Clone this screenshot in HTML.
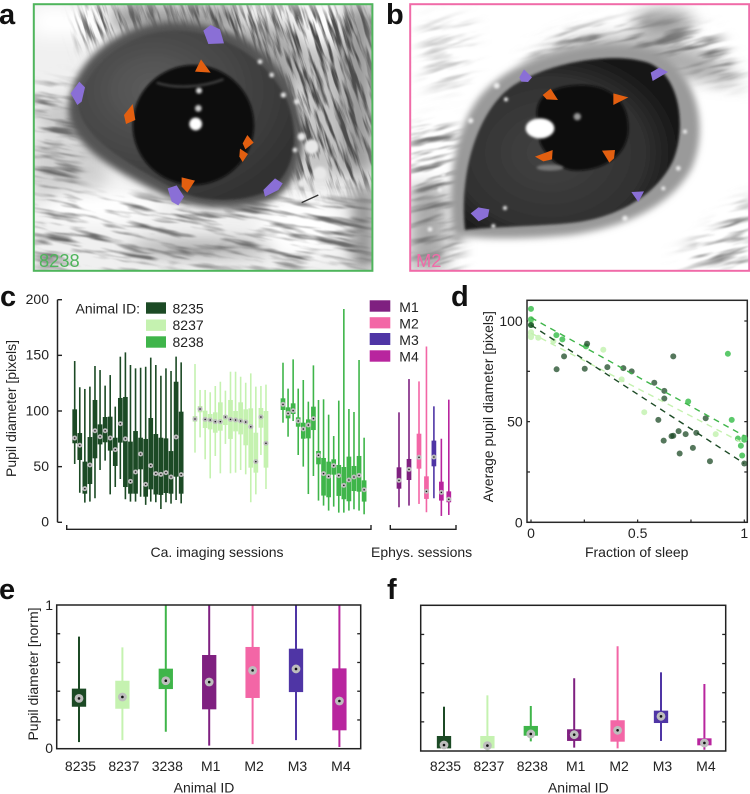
<!DOCTYPE html>
<html lang="en">
<head>
<meta charset="utf-8">
<title>Pupil diameter figure</title>
<style>
html,body{margin:0;padding:0;background:#fff;width:750px;height:794px;overflow:hidden}
svg{display:block;font-family:"Liberation Sans",sans-serif;filter:blur(.3px)}
text{font-size:14px;fill:#222}
.panel{font-size:29px;font-weight:bold;fill:#111}
</style>
</head>
<body>
<svg id="figure" xmlns="http://www.w3.org/2000/svg" width="750" height="794" viewBox="0 0 750 794">
<defs>
<clipPath id="clipA"><rect x="34" y="5" width="338" height="266"/></clipPath>
<clipPath id="clipB"><rect x="411" y="5" width="338" height="266"/></clipPath>
<filter id="b4" x="-30%" y="-30%" width="160%" height="160%"><feGaussianBlur stdDeviation="4"/></filter>
<filter id="b10" x="-30%" y="-30%" width="160%" height="160%"><feGaussianBlur stdDeviation="10"/></filter>
<filter id="b25" x="-40%" y="-40%" width="180%" height="180%"><feGaussianBlur stdDeviation="25"/></filter>
<filter id="furA" x="0" y="0" width="100%" height="100%" color-interpolation-filters="sRGB"><feTurbulence type="fractalNoise" baseFrequency="0.007 0.05" numOctaves="3" seed="4"/><feColorMatrix values="0 0 0 0 .42  0 0 0 0 .42  0 0 0 0 .42  3.4 0 0 0 -1.62"/><feGaussianBlur stdDeviation="1.5"/></filter>
<filter id="furA2" x="0" y="0" width="100%" height="100%" color-interpolation-filters="sRGB"><feTurbulence type="fractalNoise" baseFrequency="0.008 0.07" numOctaves="3" seed="9"/><feColorMatrix values="0 0 0 0 .3  0 0 0 0 .3  0 0 0 0 .3  4 0 0 0 -1.75"/><feGaussianBlur stdDeviation="1"/></filter>
<filter id="furB" x="0" y="0" width="100%" height="100%" color-interpolation-filters="sRGB"><feTurbulence type="fractalNoise" baseFrequency="0.007 0.05" numOctaves="3" seed="11"/><feColorMatrix values="0 0 0 0 .45  0 0 0 0 .45  0 0 0 0 .45  3.6 0 0 0 -1.6"/><feGaussianBlur stdDeviation="2"/></filter>
<mask id="maskA"><g filter="url(#b25)" fill="#fff">
<rect x="100" y="590" width="1020" height="220"/><rect x="100" y="250" width="140" height="350"/></g></mask>
<mask id="maskA2"><g filter="url(#b25)" fill="#fff">
<path d="M240,20 H1120 V560 H880 L860,270 C780,140 640,80 480,70 C380,70 300,110 240,150Z"/></g></mask>
<mask id="maskB"><g filter="url(#b25)" fill="#fff">
<path d="M430,190 C540,60 800,40 1000,100 L1100,260 L900,200 L700,130 L480,190Z"/><rect x="95" y="370" width="140" height="440"/><rect x="130" y="60" width="150" height="200" opacity=".4"/><path d="M880,790 L1110,590 L1110,800Z"/></g></mask>
<radialGradient id="irisA" cx="35%" cy="35%" r="70%"><stop offset="0" stop-color="#5e5e5e"/><stop offset=".5" stop-color="#484848"/><stop offset="1" stop-color="#333"/></radialGradient>
<radialGradient id="irisB" cx="40%" cy="55%" r="62%"><stop offset="0" stop-color="#434343"/><stop offset=".7" stop-color="#313131"/><stop offset="1" stop-color="#141414"/></radialGradient>
</defs>

<!-- Panel a: photograph of animal 8238 eye -->
<g clip-path="url(#clipA)">
<g transform="scale(.33333)">
<rect x="100" y="12" width="1020" height="800" fill="#f0f0f0"/>
<g filter="url(#b25)">
<rect x="100" y="20" width="230" height="90" fill="#fff"/>
<rect x="330" y="20" width="380" height="70" fill="#9a9a9a"/>
<ellipse cx="790" cy="180" rx="130" ry="110" fill="#aaa"/>
<rect x="1030" y="20" width="90" height="500" fill="#999"/>
<rect x="930" y="20" width="90" height="110" fill="#fff"/>
<rect x="900" y="130" width="130" height="400" fill="#c4c4c4"/>
<rect x="100" y="420" width="220" height="180" fill="#d0d0d0"/>
<ellipse cx="180" cy="350" rx="70" ry="50" fill="#c8c8c8"/>
<rect x="1060" y="560" width="60" height="250" fill="#888"/>
<ellipse cx="900" cy="680" rx="120" ry="90" fill="#fff"/>
<ellipse cx="300" cy="620" rx="180" ry="50" fill="#fff"/>
<ellipse cx="600" cy="745" rx="220" ry="24" fill="#a4a4a4"/>
</g>
<g mask="url(#maskA)">
<rect x="-150" y="-200" width="1500" height="1400" filter="url(#furA)" transform="rotate(10 600 400)"/>
</g>
<g mask="url(#maskA2)">
<rect x="-200" y="-400" width="1700" height="1700" filter="url(#furA2)" transform="rotate(72 800 300)"/>
</g>
<path d="M205,320 C220,170 370,65 520,65 C690,65 830,150 885,290 C925,400 915,540 820,598 C730,635 590,635 490,585 C370,525 195,440 205,320Z" fill="#555" filter="url(#b10)"/>
<path d="M235,320 C250,200 380,95 520,92 C660,90 800,170 860,300 C900,400 890,520 800,575 C720,610 590,610 510,560 C400,500 250,420 235,320Z" fill="url(#irisA)" filter="url(#b4)"/>
<ellipse cx="580" cy="375" rx="182" ry="180" fill="#070707" filter="url(#b4)"/>
<path d="M470,248 C520,265 600,265 670,238" stroke="#555" stroke-width="5" fill="none" filter="url(#b4)"/>
<circle cx="587" cy="372" r="19" fill="#fff" filter="url(#b4)"/>
<circle cx="595" cy="325" r="10" fill="#ccc" filter="url(#b4)"/>
<circle cx="597" cy="272" r="9" fill="#ddd" filter="url(#b4)"/>
<g fill="#e8e8e8" filter="url(#b4)">
<circle cx="905" cy="410" r="12"/><circle cx="935" cy="440" r="22"/><circle cx="885" cy="450" r="7"/><circle cx="960" cy="520" r="20"/><circle cx="905" cy="550" r="12"/><circle cx="850" cy="285" r="8"/><circle cx="890" cy="305" r="8"/><circle cx="815" cy="225" r="7"/><circle cx="780" cy="185" r="7"/>
</g>
<path d="M905,608 L955,585" stroke="#333" stroke-width="4"/>
<g fill="#8a6fd6">
<path d="M610,92 L632,75 L660,88 L672,130 L625,132Z"/>
<path d="M212,280 L238,245 L255,262 L245,305 L232,315Z"/>
<path d="M503,565 L530,556 L552,590 L535,616 L515,605Z"/>
<path d="M790,570 L825,535 L848,550 L835,570 L795,590Z"/>
</g>
<g fill="#e35f10">
<path d="M603,178 L632,218 L585,215Z"/>
<path d="M372,345 L398,312 L406,360 L378,372Z"/>
<path d="M742,405 L761,428 L736,448 L728,430Z"/>
<path d="M720,446 L744,462 L728,486 L718,470Z"/>
<path d="M545,532 L585,542 L562,578 L545,560Z"/>
</g>
</g>
</g>
<rect x="33.8" y="4.2" width="338.6" height="266.6" fill="none" stroke="#4fb55c" stroke-width="2"/>
<text x="39" y="267" style="font-size:18.3px;fill:#4fb55c">8238</text>

<!-- Panel b: photograph of animal M2 eye -->
<g clip-path="url(#clipB)">
<g transform="translate(380 0) scale(.33333)">
<rect x="90" y="12" width="1020" height="800" fill="#fff"/>
<g filter="url(#b25)">
<ellipse cx="850" cy="70" rx="90" ry="40" fill="#999"/>
<path d="M470,180 C560,90 800,90 1000,170 L1090,250 L900,230 L700,160Z" fill="#aaa"/>
<rect x="90" y="560" width="110" height="250" fill="#aaa"/>
</g>
<g mask="url(#maskB)">
<rect x="-100" y="-200" width="1500" height="1400" filter="url(#furB)" transform="rotate(-14 600 400)"/>
</g>
<path d="M220,705 C195,550 225,335 345,245 C470,140 720,105 835,160 C960,230 985,390 935,505 C870,625 720,685 570,705 C450,717 320,720 220,705Z" fill="#9a9a9a" filter="url(#b10)"/>
<path d="M255,690 C240,560 270,380 370,280 C470,190 700,150 810,190 C900,230 920,380 880,480 C830,590 700,660 560,670 C450,680 340,680 255,690Z" fill="url(#irisB)" filter="url(#b4)"/>
<path d="M470,340 C470,280 530,255 610,255 C700,258 745,310 745,385 C745,460 680,510 590,512 C540,512 500,470 480,430Z" fill="#090909" filter="url(#b4)"/>
<ellipse cx="480" cy="385" rx="43" ry="30" fill="#fff" filter="url(#b4)"/>
<circle cx="592" cy="350" r="11" fill="#999" filter="url(#b4)"/>
<ellipse cx="510" cy="503" rx="40" ry="9" fill="#777" filter="url(#b4)"/>
<g fill="#eee" filter="url(#b4)">
<circle cx="350" cy="257" r="9"/><circle cx="272" cy="362" r="8"/><circle cx="378" cy="298" r="6"/><circle cx="190" cy="525" r="7"/><circle cx="180" cy="570" r="7"/><circle cx="150" cy="688" r="7"/><circle cx="375" cy="624" r="6"/><circle cx="340" cy="678" r="6"/><circle cx="895" cy="505" r="7"/><circle cx="915" cy="395" r="6"/><circle cx="735" cy="655" r="8"/><circle cx="850" cy="565" r="6"/>
</g>
<g fill="#8a6fd6">
<path d="M418,232 L432,208 L456,232 L444,246 L424,245Z"/>
<path d="M812,218 L838,203 L864,216 L818,243Z"/>
<path d="M754,576 L792,574 L775,606Z"/>
<path d="M272,640 L295,622 L328,628 L324,650 L296,664Z"/>
</g>
<g fill="#e35f10">
<path d="M488,285 L512,266 L534,300 L500,298Z"/>
<path d="M700,280 L745,292 L700,315Z"/>
<path d="M465,470 L518,450 L516,478 L490,484Z"/>
<path d="M666,452 L705,450 L702,475 L688,488Z"/>
</g>
</g>
</g>
<rect x="410.2" y="4.2" width="339" height="266.6" fill="none" stroke="#f06ba8" stroke-width="2"/>
<text x="416" y="267" style="font-size:18.3px;fill:#f06ba8">M2</text>

<!-- Panel letters -->
<text class="panel" x="-1" y="24">a</text>
<text class="panel" x="386" y="24">b</text>
<text class="panel" x="0" y="306">c</text>
<text class="panel" x="451" y="306">d</text>
<text class="panel" x="-1" y="599">e</text>
<text class="panel" x="387" y="599">f</text>

<!-- Panel c static text -->
<text transform="translate(16 408.5) rotate(-90)" text-anchor="middle">Pupil diameter [pixels]</text>
<text x="75.5" y="313.5">Animal ID:</text>
<rect x="146" y="302.3" width="20" height="11.4" fill="#1c4a25"/>
<rect x="146" y="319.5" width="20" height="11.4" fill="#c5f2b0"/>
<rect x="146" y="336.3" width="20" height="11.4" fill="#3fb54a"/>
<text x="172.5" y="313.5">8235</text>
<text x="172.5" y="330">8237</text>
<text x="172.5" y="347">8238</text>
<rect x="369.7" y="300.3" width="20.6" height="11.4" fill="#7f2080"/>
<rect x="369.7" y="317.2" width="20.6" height="11.2" fill="#f366a6"/>
<rect x="369.7" y="333" width="20.6" height="12" fill="#4f35a5"/>
<rect x="369.7" y="350.3" width="20.6" height="11.4" fill="#b8259e"/>
<text x="399.3" y="311.8">M1</text>
<text x="399.3" y="328.5">M2</text>
<text x="399.3" y="344.8">M3</text>
<text x="399.3" y="361.5">M4</text>
<path d="M66.7,525 V529.3 H371 V525" fill="none" stroke="#222" stroke-width="1.4"/>
<path d="M390.3,525 V529.3 H456 V525" fill="none" stroke="#222" stroke-width="1.4"/>
<text x="217" y="557" text-anchor="middle">Ca. imaging sessions</text>
<text x="371" y="557">Ephys. sessions</text>

<!-- Panel d static text -->
<text transform="translate(493 406.7) rotate(-90)" text-anchor="middle">Average pupil diameter [pixels]</text>
<text x="636.7" y="557" text-anchor="middle">Fraction of sleep</text>

<!-- Panel e / f static text -->
<text transform="translate(38 674) rotate(-90)" text-anchor="middle">Pupil diameter [norm]</text>
<text x="204" y="792.5" text-anchor="middle">Animal ID</text>
<text x="578.3" y="792.5" text-anchor="middle">Animal ID</text>

<g id="chartC"></g>
<g id="chartD"></g>
<g id="chartE"></g>
<g id="chartF"></g>
</svg>

<script>
// ---- Panel c data: pupil diameter (pixels) per session ----
const yTicksC = [0, 50, 100, 150, 200];
const s8235High = [144.9,121.3,119.8,121.9,140.4,136.8,122.8,132.3,103.9,148.8,152.7,141.3,138.3,138.9,139.8,147.9,141.3,131.7,138.3,135.9,148.8,143.7];
const s8235Q3 = [101.5,80.2,54.5,76.6,109.9,88,94.6,94.9,76,111.7,112.6,72.5,82,76,74.9,93.7,79.3,76,75.4,64,126.3,99.4];
const s8235Median = [75.7,69.2,30.2,51.5,82.3,76.9,82.3,75.7,65.3,88.6,74.9,36.8,45.2,61.4,34.1,50.9,43.7,43.1,44.6,40.7,76.6,42.8];
const s8235Q1 = [71,56,25.7,34.4,57.5,70,71.9,64.4,50.6,71.6,31.7,25.7,25.7,47.6,23,29.6,25,24.6,26.3,25.7,41,25.7];
const s8235Low = [52.4,26.6,17.7,18.6,21.6,47,55.4,25.1,31.7,38.9,20.7,18.6,18.6,23,15.6,18.6,18,12,18,16.8,20,17];

const s8237High = [142.2,118.9,118.9,116.8,122.5,126.3,118.3,135.3,135.3,130.8,125.4,133.8,121.9,122.5,123.7];
const s8237Q3 = [95.5,104.5,100.3,97.3,98.8,107.8,96.4,109.9,100,107.8,101.5,102.4,80.5,102.7,100];
const s8237Median = [92.8,101.8,92.5,91.9,90.4,90.4,94.6,92.5,91.9,91,90.1,85.9,54.5,94.6,71];
const s8237Q1 = [90.4,98.8,84.7,83.5,80.5,82.3,87.4,74.9,81.7,79,69.2,49.1,44.6,85,49.1];
const s8237Low = [62.6,76.3,56.6,39.5,59.6,44,70.4,44,44.6,47,43.1,18,25.1,60.5,29.9];

const s8238High = [143.4,120.1,146.4,120.1,127.8,108.4,141,109.9,110.5,96.7,77.5,109.3,191.6,101.8,99.1,145.8,76];
const s8238Q3 = [111.4,103.3,106.9,94.3,89.5,92.5,103.9,64.1,57.8,54.5,56.6,51.5,49.7,59,50.6,59.6,37.7];
const s8238Median = [106,97.9,100.3,91,83.8,87.4,93.1,60.2,43.7,41.3,50.9,41.9,33.2,38,40.7,42.2,29.3];
const s8238Q1 = [100.9,93.4,97.3,85.9,75.1,75.4,82.9,52.1,24,22.5,42.8,23.7,20.7,18.9,28.1,27.5,18.6];
const s8238Low = [89.5,76.9,91,60.5,50,25.4,41.6,19.5,15,10.5,14.1,8.7,8.7,10.5,11.7,10.5,7.2];

const ephysAnimals = ['M1','M1','M2','M2','M3','M4','M4'];
const ephysHigh = [98.8,128.7,126.6,158,104.2,75.1,110.2];
const ephysQ3 = [49.4,56.9,79.6,41.3,73.4,36.5,27.8];
const ephysMedian = [37.7,47.6,58.4,27.8,58.7,26.9,20.7];
const ephysQ1 = [30.2,38,48.2,21,50.3,19.5,18];
const ephysLow = [13.5,15,16.5,9,21.6,5.7,6.6];

// ---- Panel d data: fraction of sleep vs. mean pupil diameter ----
const yTicksD = [0, 25, 50, 75, 100];
const yTickLabelsD = ['0', '', '50', '', '100'];
const xTicksD = [0, 0.25, 0.5, 0.75, 1];
const xTickLabelsD = ['0', '', '0.5', '', '1'];
const sleep8235 = [0,.12,.155,.252,.263,.358,.433,.472,.578,.625,.625,.597,.622,.659,.667,.692,.667,.697,.725,.759,.775,.819,.839,1];
const pupil8235 = [98,76,82.4,76.3,88.7,77.1,76.6,75,69.3,65.3,61.5,50.9,40.6,42.8,43,45.3,82.4,34.2,43.8,37,44.4,51.7,30.3,29.2];
const sleep8237 = [0,0,0,0,0,0,.034,.105,.339,.425,.531,.866];
const pupil8237 = [92,92.5,94,94.5,100,101,91.7,90,85.7,71,54.7,43.8];
const sleep8238 = [0,0,0,.119,.147,.258,.737,.923,.941,.97,.984,.99,1,1,1];
const pupil8238 = [106,100.8,98,93,90.9,87.4,60,83.7,50.9,41.6,38,33.2,42,41,41.5];
const fit8235 = [98, 29.2];
const fit8237 = [94, 39];
const fit8238 = [101.7, 42.9];

// ---- Panel e data ----
const categoriesE = ['8235','8237','3238','M1','M2','M3','M4'];
const normTicks = [0.2, 0.4, 0.6, 0.8];
const eHigh = [.78,.705,1,1,1,1,1];
const eQ3 = [.418,.473,.557,.652,.708,.696,.559];
const eMedian = [.35,.36,.473,.464,.545,.555,.332];
const eQ1 = [.292,.278,.415,.274,.353,.394,.128];
const eLow = [.046,.06,.118,.021,.032,.06,.012];

// ---- Panel f data ----
const categoriesF = ['8235','8237','8238','M1','M2','M3','M4'];
const fHigh = [.304,.382,.309,.499,.719,.54,.46];
const fQ3 = [.103,.103,.172,.149,.211,.277,.087];
const fMedian = [.041,.037,.117,.112,.142,.238,.055];
const fQ1 = [.018,.018,.105,.069,.064,.192,.039];
const fLow = [.018,0,.066,.023,.018,.069,.009];

const COLORS = {'8235':'#1c4a25','8237':'#c5f2b0','8238':'#3fb54a','3238':'#3fb54a',M1:'#7f2080',M2:'#f366a6',M3:'#4f35a5',M4:'#b8259e'};
const NS = 'http://www.w3.org/2000/svg';

function mk(parent, tag, name, attrs) {
  const el = document.createElementNS(NS, tag);
  
  
  for (const k in attrs) el.setAttribute(k, attrs[k]);
  parent.appendChild(el);
  return el;
}
function label(parent, name, x, y, str, anchor) {
  const el = mk(parent, 'text', name, {x: x, y: y, 'text-anchor': anchor});
  el.textContent = str;
  return el;
}
function drawBox(parent, name, x, high, q3, med, q1, low, y, color, boxW, whiskW, r, dot) {
  const g = mk(parent, 'g', name, {});
  mk(g, 'line', name + '-whisker', {x1: x, x2: x, y1: y(high), y2: y(low), stroke: color, 'stroke-width': whiskW});
  mk(g, 'rect', name + '-box', {x: x - boxW / 2, y: y(q3), width: boxW, height: y(q1) - y(q3), fill: color});
  mk(g, 'circle', name + '-median-ring', {cx: x, cy: y(med), r: r, fill: '#bdbdbd'});
  mk(g, 'circle', name + '-median-dot', {cx: x, cy: y(med), r: dot, fill: '#111'});
}

// Panel c
(function () {
  const root = document.getElementById('chartC');
  const y = v => 522.3 - v * 1.113;
  mk(root, 'line', 'c-y-axis', {x1: 57.5, x2: 57.5, y1: y(200), y2: y(0), stroke: '#222', 'stroke-width': 1.5});
  yTicksC.forEach(t => {
    mk(root, 'line', 'c-y-tick', {x1: 57.5, x2: 62, y1: y(t), y2: y(t), stroke: '#222', 'stroke-width': 1.4});
    label(root, 'c-y-tick-label', 49, y(t) + 4.3, String(t), 'end');
  });
  const xSession = (start, i) => start + 5.07 * i;
  s8235Median.forEach((m, i) => drawBox(root, 'box-8235-session-' + (i + 1), xSession(74.7, i), s8235High[i], s8235Q3[i], m, s8235Q1[i], s8235Low[i], y, COLORS['8235'], 4.7, 1.6, 2.5, .75));
  s8237Median.forEach((m, i) => drawBox(root, 'box-8237-session-' + (i + 1), xSession(195, i), s8237High[i], s8237Q3[i], m, s8237Q1[i], s8237Low[i], y, COLORS['8237'], 4.7, 1.6, 2.5, .75));
  s8238Median.forEach((m, i) => drawBox(root, 'box-8238-session-' + (i + 1), xSession(283, i), s8238High[i], s8238Q3[i], m, s8238Q1[i], s8238Low[i], y, COLORS['8238'], 4.7, 1.6, 2.5, .75));
  const xEphys = i => i < 2 ? 399 + 10 * i : 419 + 7.45 * (i - 2);
  ephysMedian.forEach((m, i) => drawBox(root, 'box-ephys-' + ephysAnimals[i] + '-' + (i + 1), xEphys(i), ephysHigh[i], ephysQ3[i], m, ephysQ1[i], ephysLow[i], y, COLORS[ephysAnimals[i]], 4.7, 1.6, 2.5, .75));
})();

// Panel d
(function () {
  const root = document.getElementById('chartD');
  const x = v => 531 + v * 213.3;
  const y = v => 522.3 - v * 2.013;
  mk(root, 'rect', 'd-plot-frame', {x: 527, y: 300.3, width: 220.3, height: 222, fill: 'none', stroke: '#2a2a2a', 'stroke-width': 1.5});
  yTicksD.forEach((t, i) => {
    mk(root, 'line', 'd-y-tick-left', {x1: 527, x2: 530, y1: y(t), y2: y(t), stroke: '#222', 'stroke-width': 1.2});
    mk(root, 'line', 'd-y-tick-right', {x1: 744.3, x2: 747, y1: y(t), y2: y(t), stroke: '#222', 'stroke-width': 1.2});
    if (yTickLabelsD[i]) label(root, 'd-y-tick-label', 522.7, y(t) + 5, yTickLabelsD[i], 'end');
  });
  xTicksD.forEach((t, i) => {
    mk(root, 'line', 'd-x-tick', {x1: x(t), x2: x(t), y1: 519.5, y2: 522.3, stroke: '#222', 'stroke-width': 1.2});
    if (xTickLabelsD[i]) label(root, 'd-x-tick-label', x(t), 538, xTickLabelsD[i], 'middle');
  });
  const series = [
    ['8237', sleep8237, pupil8237, '#cdf4bd', 1, fit8237],
    ['8238', sleep8238, pupil8238, '#5cc96b', 1, fit8238],
    ['8235', sleep8235, pupil8235, '#1c4a25', .75, fit8235]
  ];
  series.forEach(s => {
    s[1].forEach((sx, i) => mk(root, 'circle', 'point-' + s[0], {cx: x(sx), cy: y(s[2][i]), r: 3, fill: s[3], opacity: s[4]}));
  });
  series.forEach(s => {
    mk(root, 'line', 'fit-line-' + s[0], {x1: x(0), x2: x(1), y1: y(s[5][0]), y2: y(s[5][1]), stroke: s[0] === '8235' ? '#1c4a25' : (s[0] === '8238' ? '#3fb54a' : '#c5f2b0'), 'stroke-width': 1.4, 'stroke-dasharray': '6 5'});
  });
})();

// Panels e and f
function normPanel(rootId, prefix, left, right, top, bottom, start, labelOff, cats, hi, q3, med, q1, lo) {
  const root = document.getElementById(rootId);
  const y = v => bottom - v * (bottom - top);
  const x = i => start + 43.4 * i;
  normTicks.forEach(t => {
    mk(root, 'line', prefix + '-y-tick-left', {x1: left, x2: left + 3.5, y1: y(t), y2: y(t), stroke: '#222', 'stroke-width': 1.3});
    mk(root, 'line', prefix + '-y-tick-right', {x1: right - 3.5, x2: right, y1: y(t), y2: y(t), stroke: '#222', 'stroke-width': 1.3});
  });
  cats.forEach((c, i) => {
    drawBox(root, prefix + '-box-' + c, x(i), hi[i], q3[i], med[i], q1[i], lo[i], y, COLORS[c], 14.3, 2, 4.4, 1.3);
    label(root, prefix + '-x-tick-label-' + c, x(i) + labelOff, 771, c, 'middle');
  });
  mk(root, 'rect', prefix + '-plot-frame', {x: left, y: top, width: right - left, height: bottom - top, fill: 'none', stroke: '#222', 'stroke-width': 1.5});
}
normPanel('chartE', 'e', 56.7, 360.7, 605, 748.7, 79, 1.5, categoriesE, eHigh, eQ3, eMedian, eQ1, eLow);
normPanel('chartF', 'f', 420.7, 725.7, 605.3, 751, 444, 1.5, categoriesF, fHigh, fQ3, fMedian, fQ1, fLow);
const eRoot = document.getElementById('chartE');
label(eRoot, 'e-y-tick-label-top', 53, 610, '1', 'end');
label(eRoot, 'e-y-tick-label-bottom', 53, 753, '0', 'end');
</script>
</body>
</html>
